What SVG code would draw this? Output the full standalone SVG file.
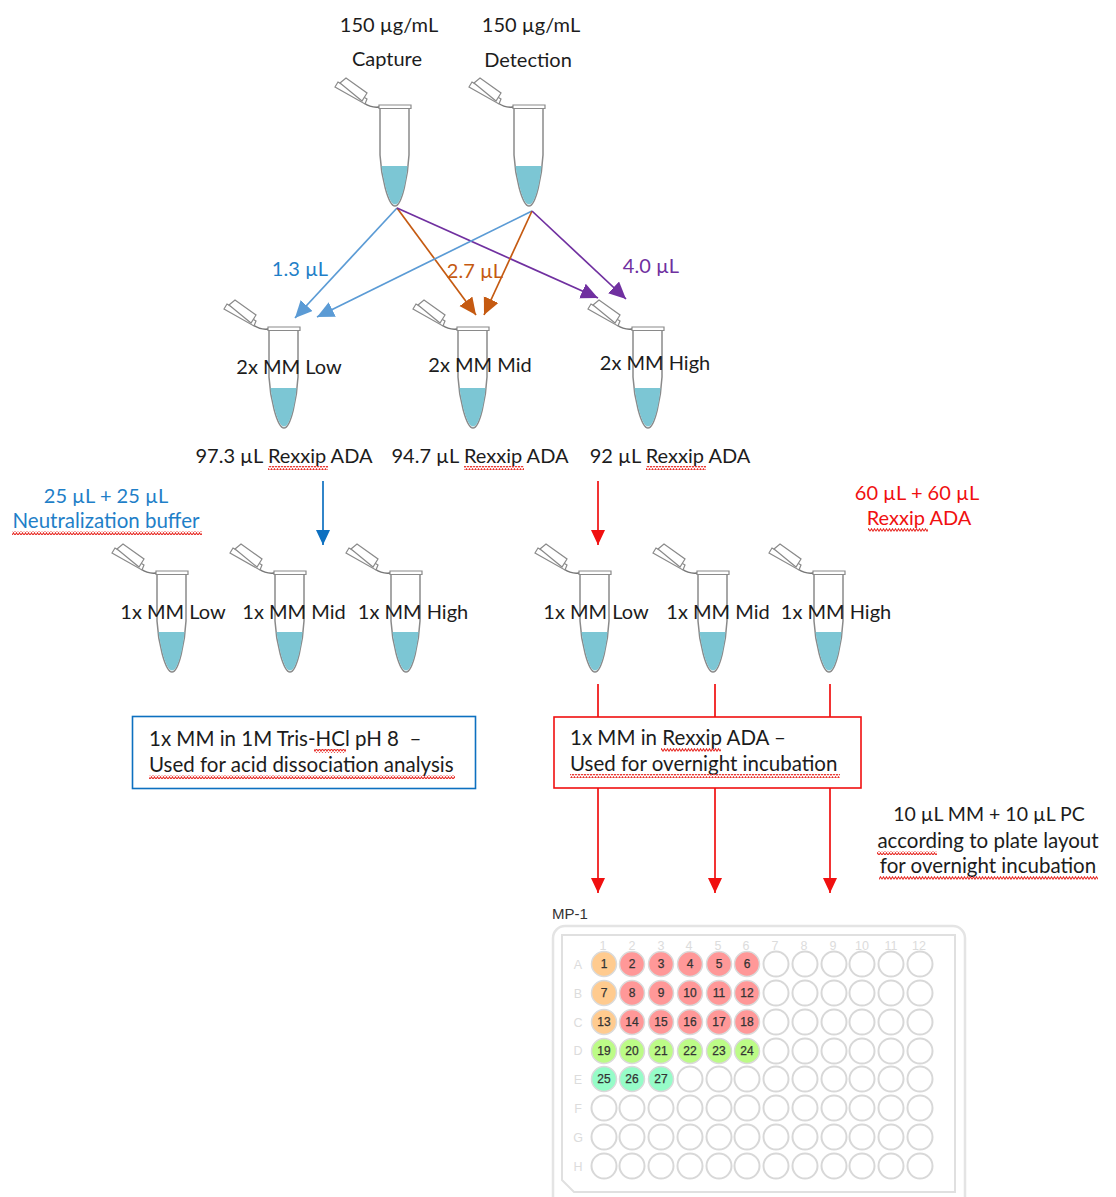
<svg xmlns="http://www.w3.org/2000/svg" width="1116" height="1197" viewBox="0 0 1116 1197">
<style>
text{font-family:Lato,"Open Sans",sans-serif;font-size:20px;fill:#1c1c1c;text-anchor:middle}
.blue{fill:#1f7fc8}.org{fill:#c55a11}.pur{fill:#7030a0}.red{fill:#f01010}
.l{text-anchor:start;font-size:20.500px}
.n{font-size:20.500px}
.c{fill:none;stroke-width:1.700}
.wl{fill:#fff;stroke:#d8d8d8;stroke-width:2}
.w{font-family:"Liberation Sans",Arial,sans-serif;font-size:12px;fill:#333;stroke:#333;stroke-width:.25}
.h{font-family:"Liberation Sans",Arial,sans-serif;font-size:12.500px;fill:#dcdcdc}
.o{fill:#ffcb8f}.r{fill:#ff9898}.g{fill:#bcfb87}.t{fill:#96fcc8}
</style>
<defs>
<pattern id="sq" width="6" height="4" patternUnits="userSpaceOnUse"><path d="M0 3.200L1.500 .8L3 3.200L4.500 .8L6 3.200" fill="none" stroke="#e8302a" stroke-width="1.100"/></pattern>
<marker id="mb" markerWidth="19" markerHeight="17" refX="17" refY="8" orient="auto" markerUnits="userSpaceOnUse"><path d="M0 0L17 8L0 16z" fill="#5b9bd5"/></marker>
<marker id="mo" markerWidth="19" markerHeight="17" refX="17" refY="8" orient="auto" markerUnits="userSpaceOnUse"><path d="M0 0L17 8L0 16z" fill="#c55a11"/></marker>
<marker id="mp" markerWidth="19" markerHeight="17" refX="17" refY="8" orient="auto" markerUnits="userSpaceOnUse"><path d="M0 0L17 8L0 16z" fill="#7030a0"/></marker>
<marker id="mr" markerWidth="19" markerHeight="17" refX="15" refY="7" orient="auto" markerUnits="userSpaceOnUse"><path d="M0 0L15 7L0 14z" fill="#f01010"/></marker>
<marker id="md" markerWidth="19" markerHeight="17" refX="15" refY="7" orient="auto" markerUnits="userSpaceOnUse"><path d="M0 0L15 7L0 14z" fill="#0d70c0"/></marker>
<g id="tube">
<path d="M-15 0V48C-14 68-7 99 0 99C7 99 13 68 14 48V0" fill="#fff" stroke="#8a8a8a" stroke-width="1.500"/>
<path d="M-13.500 59H12.500C11 76 6 97.500 0 97.500C-6 97.500-11 76-13.500 59z" fill="#7cc6d4"/>
<path d="M-16-2H16V1.500H-16z" fill="#fff" stroke="#8a8a8a" stroke-width="1.200"/>
<path d="M-16 0Q-24 1-31-4" fill="none" stroke="#777" stroke-width="1.500"/>
<path d="M-60-20L-57-25L-28-8L-30-3z" fill="#fff" stroke="#8a8a8a" stroke-width="1.200"/>
<path d="M-55-24L-49-29L-28-14L-33-6z" fill="#fff" stroke="#8a8a8a" stroke-width="1.200"/>
</g>
</defs>
<g id="connectors">
<path class="c" stroke="#5b9bd5" marker-end="url(#mb)" d="M397 208L295 318"/>
<path class="c" stroke="#c55a11" marker-end="url(#mo)" d="M397 208L476 315"/>
<path class="c" stroke="#7030a0" marker-end="url(#mp)" d="M397 208L598 298"/>
<path class="c" stroke="#5b9bd5" marker-end="url(#mb)" d="M532 211L317 317"/>
<path class="c" stroke="#c55a11" marker-end="url(#mo)" d="M532 211L484 315"/>
<path class="c" stroke="#7030a0" marker-end="url(#mp)" d="M532 211L626 299"/>
<path class="c" stroke="#0d70c0" marker-end="url(#md)" d="M323 481V545"/>
<path class="c" stroke="#f01010" marker-end="url(#mr)" d="M598 481V545"/>
<path class="c" stroke="#f01010" d="M598 684V717M715 684V717M830 684V717"/>
<path class="c" stroke="#f01010" marker-end="url(#mr)" d="M598 788V893"/>
<path class="c" stroke="#f01010" marker-end="url(#mr)" d="M715 788V893"/>
<path class="c" stroke="#f01010" marker-end="url(#mr)" d="M830 788V893"/>
</g>
<g id="tube-capture"><use href="#tube" x="395" y="107"/><text x="389" y="32">150 µg/mL</text><text x="387" y="66">Capture</text></g>
<g id="tube-detection"><use href="#tube" x="529" y="107"/><text x="531" y="32">150 µg/mL</text><text x="528" y="67">Detection</text></g>
<g id="tube-2x-low"><use href="#tube" x="284" y="329"/><text x="289" y="374">2x MM Low</text></g>
<g id="tube-2x-mid"><use href="#tube" x="473" y="329"/><text x="480" y="372">2x MM Mid</text></g>
<g id="tube-2x-high"><use href="#tube" x="648" y="329"/><text x="655" y="370">2x MM High</text></g>
<g id="tube-1x-low-a"><use href="#tube" x="172" y="573"/><text x="173" y="619">1x MM Low</text></g>
<g id="tube-1x-mid-a"><use href="#tube" x="290" y="573"/><text x="294" y="619">1x MM Mid</text></g>
<g id="tube-1x-high-a"><use href="#tube" x="406" y="573"/><text x="413" y="619">1x MM High</text></g>
<g id="tube-1x-low-b"><use href="#tube" x="595" y="573"/><text x="596" y="619">1x MM Low</text></g>
<g id="tube-1x-mid-b"><use href="#tube" x="713" y="573"/><text x="718" y="619">1x MM Mid</text></g>
<g id="tube-1x-high-b"><use href="#tube" x="829" y="573"/><text x="836" y="619">1x MM High</text></g>
<g id="labels">
<text class="blue" x="300" y="276">1.3 µL</text>
<text class="org" x="475" y="278">2.7 µL</text>
<text class="pur" x="651" y="273">4.0 µL</text>
<text x="284" y="463">97.3 µL Rexxip ADA</text><rect x="268" y="466" width="60" height="4" fill="url(#sq)"/>
<text x="480" y="463">94.7 µL Rexxip ADA</text><rect x="464" y="466" width="60" height="4" fill="url(#sq)"/>
<text x="670" y="463">92 µL Rexxip ADA</text><rect x="646" y="466" width="60" height="4" fill="url(#sq)"/>
<text class="blue" x="106" y="503">25 µL + 25 µL</text>
<text class="blue n" x="106" y="528">Neutralization buffer</text><rect x="12" y="531" width="190" height="4" fill="url(#sq)"/>
<text class="red" x="917" y="500">60 µL + 60 µL</text>
<text class="red" x="919" y="525">Rexxip ADA</text><rect x="868" y="528" width="60" height="4" fill="url(#sq)"/>
<text x="989" y="821" style="font-size:19.500px">10 µL MM + 10 µL PC</text>
<text class="n" x="988" y="848">according to plate layout</text><rect x="877" y="851" width="60" height="4" fill="url(#sq)"/>
<text class="n" x="988" y="873">for overnight incubation</text><rect x="879" y="876" width="219" height="4" fill="url(#sq)"/>
</g>
<g id="box-tris"><rect x="132.500" y="716.500" width="343" height="72" fill="#fff" stroke="#0d70c0" stroke-width="1.600"/>
<text class="l" x="149" y="746" xml:space="preserve">1x MM in 1M Tris-HCl pH 8  –</text><rect x="314" y="749" width="32" height="4" fill="url(#sq)"/>
<text class="l" x="149" y="772">Used for acid dissociation analysis</text><rect x="149" y="775" width="306" height="4" fill="url(#sq)"/></g>
<g id="box-rexxip"><rect x="554" y="717" width="307" height="71" fill="#fff" stroke="#f01010" stroke-width="1.600"/>
<text class="l" x="570" y="745">1x MM in Rexxip ADA –</text><rect x="661" y="748" width="60" height="4" fill="url(#sq)"/>
<text class="l" x="570" y="771">Used for overnight incubation</text><rect x="570" y="774" width="270" height="4" fill="url(#sq)"/></g>
<g id="plate">
<text style="font-family:'Liberation Sans',Arial,sans-serif;font-size:15px;text-anchor:start;fill:#333" x="552" y="919">MP-1</text>
<rect x="553" y="926" width="412" height="290" rx="12" fill="#fff" stroke="#e4e4e4" stroke-width="2.500"/>
<path d="M562 935H955V1192H574L562 1180z" fill="#fff" stroke="#e0e0e0" stroke-width="2"/>
<g class="hdr">
<text class="h" x="603" y="950">1</text><text class="h" x="632" y="950">2</text><text class="h" x="661" y="950">3</text><text class="h" x="689" y="950">4</text><text class="h" x="718" y="950">5</text><text class="h" x="746" y="950">6</text><text class="h" x="775" y="950">7</text><text class="h" x="804" y="950">8</text><text class="h" x="833" y="950">9</text><text class="h" x="862" y="950">10</text><text class="h" x="891" y="950">11</text><text class="h" x="919" y="950">12</text>
<text class="h" x="578" y="969">A</text><text class="h" x="578" y="998">B</text><text class="h" x="578" y="1027">C</text><text class="h" x="578" y="1055">D</text><text class="h" x="578" y="1084">E</text><text class="h" x="578" y="1113">F</text><text class="h" x="578" y="1142">G</text><text class="h" x="578" y="1171">H</text>
</g>
<g id="wells-empty">
<circle class="wl" cx="776" cy="964" r="12.500"/><circle class="wl" cx="805" cy="964" r="12.500"/><circle class="wl" cx="834" cy="964" r="12.500"/><circle class="wl" cx="862" cy="964" r="12.500"/><circle class="wl" cx="891" cy="964" r="12.500"/><circle class="wl" cx="920" cy="964" r="12.500"/>
<circle class="wl" cx="776" cy="993" r="12.500"/><circle class="wl" cx="805" cy="993" r="12.500"/><circle class="wl" cx="834" cy="993" r="12.500"/><circle class="wl" cx="862" cy="993" r="12.500"/><circle class="wl" cx="891" cy="993" r="12.500"/><circle class="wl" cx="920" cy="993" r="12.500"/>
<circle class="wl" cx="776" cy="1022" r="12.500"/><circle class="wl" cx="805" cy="1022" r="12.500"/><circle class="wl" cx="834" cy="1022" r="12.500"/><circle class="wl" cx="862" cy="1022" r="12.500"/><circle class="wl" cx="891" cy="1022" r="12.500"/><circle class="wl" cx="920" cy="1022" r="12.500"/>
<circle class="wl" cx="776" cy="1051" r="12.500"/><circle class="wl" cx="805" cy="1051" r="12.500"/><circle class="wl" cx="834" cy="1051" r="12.500"/><circle class="wl" cx="862" cy="1051" r="12.500"/><circle class="wl" cx="891" cy="1051" r="12.500"/><circle class="wl" cx="920" cy="1051" r="12.500"/>
<circle class="wl" cx="690" cy="1079" r="12.500"/><circle class="wl" cx="719" cy="1079" r="12.500"/><circle class="wl" cx="747" cy="1079" r="12.500"/><circle class="wl" cx="776" cy="1079" r="12.500"/><circle class="wl" cx="805" cy="1079" r="12.500"/><circle class="wl" cx="834" cy="1079" r="12.500"/><circle class="wl" cx="862" cy="1079" r="12.500"/><circle class="wl" cx="891" cy="1079" r="12.500"/><circle class="wl" cx="920" cy="1079" r="12.500"/>
<circle class="wl" cx="604" cy="1108" r="12.500"/><circle class="wl" cx="632" cy="1108" r="12.500"/><circle class="wl" cx="661" cy="1108" r="12.500"/><circle class="wl" cx="690" cy="1108" r="12.500"/><circle class="wl" cx="719" cy="1108" r="12.500"/><circle class="wl" cx="747" cy="1108" r="12.500"/><circle class="wl" cx="776" cy="1108" r="12.500"/><circle class="wl" cx="805" cy="1108" r="12.500"/><circle class="wl" cx="834" cy="1108" r="12.500"/><circle class="wl" cx="862" cy="1108" r="12.500"/><circle class="wl" cx="891" cy="1108" r="12.500"/><circle class="wl" cx="920" cy="1108" r="12.500"/>
<circle class="wl" cx="604" cy="1137" r="12.500"/><circle class="wl" cx="632" cy="1137" r="12.500"/><circle class="wl" cx="661" cy="1137" r="12.500"/><circle class="wl" cx="690" cy="1137" r="12.500"/><circle class="wl" cx="719" cy="1137" r="12.500"/><circle class="wl" cx="747" cy="1137" r="12.500"/><circle class="wl" cx="776" cy="1137" r="12.500"/><circle class="wl" cx="805" cy="1137" r="12.500"/><circle class="wl" cx="834" cy="1137" r="12.500"/><circle class="wl" cx="862" cy="1137" r="12.500"/><circle class="wl" cx="891" cy="1137" r="12.500"/><circle class="wl" cx="920" cy="1137" r="12.500"/>
<circle class="wl" cx="604" cy="1166" r="12.500"/><circle class="wl" cx="632" cy="1166" r="12.500"/><circle class="wl" cx="661" cy="1166" r="12.500"/><circle class="wl" cx="690" cy="1166" r="12.500"/><circle class="wl" cx="719" cy="1166" r="12.500"/><circle class="wl" cx="747" cy="1166" r="12.500"/><circle class="wl" cx="776" cy="1166" r="12.500"/><circle class="wl" cx="805" cy="1166" r="12.500"/><circle class="wl" cx="834" cy="1166" r="12.500"/><circle class="wl" cx="862" cy="1166" r="12.500"/><circle class="wl" cx="891" cy="1166" r="12.500"/><circle class="wl" cx="920" cy="1166" r="12.500"/>
</g>
<g id="wells-filled" stroke="#dadada" stroke-width="1.500">
<circle class="o" cx="604" cy="964" r="12.500"/><circle class="r" cx="632" cy="964" r="12.500"/><circle class="r" cx="661" cy="964" r="12.500"/><circle class="r" cx="690" cy="964" r="12.500"/><circle class="r" cx="719" cy="964" r="12.500"/><circle class="r" cx="747" cy="964" r="12.500"/>
<circle class="o" cx="604" cy="993" r="12.500"/><circle class="r" cx="632" cy="993" r="12.500"/><circle class="r" cx="661" cy="993" r="12.500"/><circle class="r" cx="690" cy="993" r="12.500"/><circle class="r" cx="719" cy="993" r="12.500"/><circle class="r" cx="747" cy="993" r="12.500"/>
<circle class="o" cx="604" cy="1022" r="12.500"/><circle class="r" cx="632" cy="1022" r="12.500"/><circle class="r" cx="661" cy="1022" r="12.500"/><circle class="r" cx="690" cy="1022" r="12.500"/><circle class="r" cx="719" cy="1022" r="12.500"/><circle class="r" cx="747" cy="1022" r="12.500"/>
<circle class="g" cx="604" cy="1051" r="12.500"/><circle class="g" cx="632" cy="1051" r="12.500"/><circle class="g" cx="661" cy="1051" r="12.500"/><circle class="g" cx="690" cy="1051" r="12.500"/><circle class="g" cx="719" cy="1051" r="12.500"/><circle class="g" cx="747" cy="1051" r="12.500"/>
<circle class="t" cx="604" cy="1079" r="12.500"/><circle class="t" cx="632" cy="1079" r="12.500"/><circle class="t" cx="661" cy="1079" r="12.500"/>
</g>
<g id="well-labels">
<text class="w" x="604" y="968">1</text><text class="w" x="632" y="968">2</text><text class="w" x="661" y="968">3</text><text class="w" x="690" y="968">4</text><text class="w" x="719" y="968">5</text><text class="w" x="747" y="968">6</text>
<text class="w" x="604" y="997">7</text><text class="w" x="632" y="997">8</text><text class="w" x="661" y="997">9</text><text class="w" x="690" y="997">10</text><text class="w" x="719" y="997">11</text><text class="w" x="747" y="997">12</text>
<text class="w" x="604" y="1026">13</text><text class="w" x="632" y="1026">14</text><text class="w" x="661" y="1026">15</text><text class="w" x="690" y="1026">16</text><text class="w" x="719" y="1026">17</text><text class="w" x="747" y="1026">18</text>
<text class="w" x="604" y="1055">19</text><text class="w" x="632" y="1055">20</text><text class="w" x="661" y="1055">21</text><text class="w" x="690" y="1055">22</text><text class="w" x="719" y="1055">23</text><text class="w" x="747" y="1055">24</text>
<text class="w" x="604" y="1083">25</text><text class="w" x="632" y="1083">26</text><text class="w" x="661" y="1083">27</text>
</g>
</g>
</svg>
